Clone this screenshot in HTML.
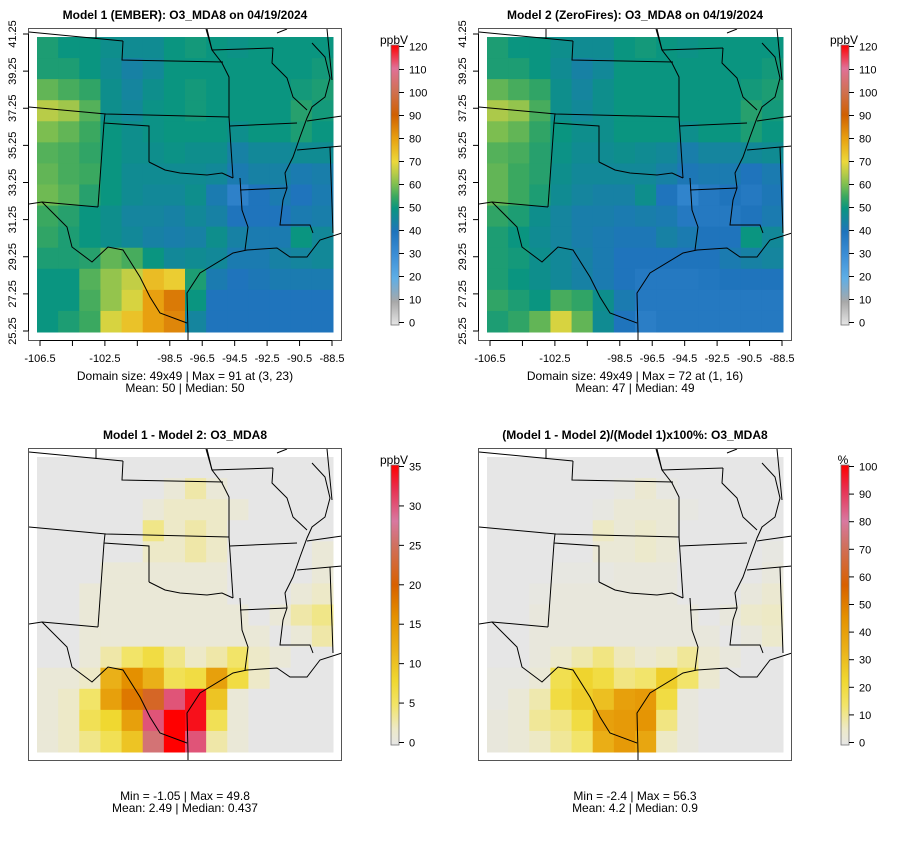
<!DOCTYPE html>
<html><head><meta charset="utf-8"><style>
body{margin:0;background:#fff;font-family:"Liberation Sans",sans-serif}
svg text{font-family:"Liberation Sans",sans-serif}
</style></head><body>
<svg id="s" width="900" height="840" viewBox="0 0 900 840" xmlns="http://www.w3.org/2000/svg"></svg>
<script>
// ---- data (14x14 coarse grids, rows north->south, cols west->east) ----
const latTicks=[25.25,27.25,29.25,31.25,33.25,35.25,37.25,39.25,41.25];
const lonTicks=[-106.5,-104.5,-102.5,-100.5,-98.5,-96.5,-94.5,-92.5,-90.5,-88.5];
const lonLabels=["-106.5","","-102.5","","-98.5","-96.5","-94.5","-92.5","-90.5","-88.5"];
const o3Ticks=[0,10,20,30,40,50,60,70,80,90,100,110,120];
const diffTicks=[0,5,10,15,20,25,30,35];
const pctTicks=[0,10,20,30,40,50,60,70,80,90,100];
const model1=[
[52,50,50,48,47,47,50,51,50,49,50,50,50,50],
[52,52,50,47,44,46,50,50,50,50,50,50,50,51],
[58,56,54,48,45,48,50,51,50,50,50,50,51,52],
[65,63,57,48,46,49,50,51,50,50,50,50,53,51],
[60,58,55,50,48,49,50,50,50,48,50,50,52,50],
[57,56,54,50,48,48,49,48,48,44,46,46,47,47],
[58,56,55,50,47,47,47,47,46,42,44,44,42,43],
[59,57,53,50,47,46,46,48,42,35,40,42,40,42],
[55,53,50,48,45,45,44,46,44,40,40,40,42,43],
[54,52,50,48,46,44,43,44,48,44,42,42,50,46],
[52,52,53,58,56,50,46,47,46,42,42,44,45,46],
[50,50,57,62,66,75,72,52,42,40,41,42,42,42],
[50,50,56,62,68,80,86,50,40,40,40,40,40,40],
[50,52,55,68,74,80,84,45,40,40,40,40,40,40]];
const model2=[
[52,50,50,48,47,47,50,51,50,49,50,50,50,50],
[52,52,50,47,44,46,50,50,50,50,50,50,50,51],
[58,56,54,48,45,48,50,50,50,50,50,50,51,52],
[64,62,56,48,46,48,50,50,50,50,50,50,53,51],
[60,58,54,50,48,48,50,50,50,48,50,50,52,50],
[57,56,53,49,47,47,48,47,46,43,45,45,46,47],
[58,55,53,48,46,46,46,46,44,41,42,42,40,42],
[58,55,52,47,45,44,44,48,40,34,38,40,38,41],
[54,52,48,45,43,43,42,43,42,38,38,38,40,42],
[52,50,47,45,43,42,41,41,44,42,40,40,50,46],
[52,51,48,46,44,42,40,40,40,40,40,42,44,45],
[52,50,48,46,44,42,40,38,38,38,39,40,40,40],
[54,52,50,56,54,48,42,38,38,38,38,38,38,38],
[52,54,58,68,58,47,40,36,38,38,38,38,38,38]];
const diffVals=[
[0,0,0,0,0,0,0,0,0,0,0,0,0,0],
[0,0,0,0,0,0,1,3,1,0,0,0,0,0],
[0,0,0,0,0,1,2,2,2,1,0,0,0,0],
[0,0,0,0,0,4,2,3,2,0,0,0,0,0],
[0,0,0,0,0,2,2,3,2,0,0,0,0,1],
[0,0,0,1,1,1,1,1,1,0,0,0,0,1],
[0,0,1,1,1,1,1,1,1,0,0,0,1,2],
[0,0,1,1,1,1,1,1,1,1,0,1,3,4],
[0,0,1,1,1,1,1,1,1,1,1,0,1,3],
[0,0,1,3,5,7,4,2,3,5,2,1,0,0],
[1,1,2,12,16,12,6,7,14,7,2,0,0,0],
[1,2,5,14,18,22,30,34,10,1,0,0,0,0],
[1,2,6,8,14,30,35,34,6,1,0,0,0,0],
[1,2,4,6,10,26,35,30,3,1,0,0,0,0]];
const pctVals=[
[0,0,0,0,0,0,0,0,0,0,0,0,0,0],
[0,0,0,0,0,0,1,4,1,0,0,0,0,0],
[0,0,0,0,0,1,3,3,3,1,0,0,0,0],
[0,0,0,0,0,6,3,5,3,0,0,0,0,0],
[0,0,0,0,0,3,3,5,3,0,0,0,0,1],
[0,0,0,1,1,1,2,2,2,0,0,0,0,2],
[0,0,1,2,2,2,2,2,2,0,0,0,2,4],
[0,0,2,2,2,2,2,2,2,2,0,2,5,6],
[0,0,2,2,2,2,2,2,2,2,2,0,2,5],
[0,0,2,5,8,12,7,4,6,10,4,2,0,0],
[1,1,3,18,24,20,12,14,26,14,4,0,0,0],
[1,3,8,20,26,30,40,42,20,2,0,0,0,0],
[2,3,10,12,20,40,42,44,12,2,0,0,0,0],
[2,3,6,10,14,35,42,38,6,2,0,0,0,0]];

// ---- colour scales ----
const o3Stops=[[0,"#e6e6e6"],[10,"#a8a8a8"],[20,"#5eaee6"],[30,"#3c8ed6"],[40,"#1f74bc"],[50,"#0a9580"],[55,"#3aa860"],[60,"#7cbe50"],[65,"#b8cc48"],[70,"#ecd83a"],[80,"#e8a010"],[90,"#d06000"],[100,"#d07050"],[110,"#e07098"],[120,"#ff0000"]];
const diffStops=[[0,"#e6e6e6"],[2,"#ede9c8"],[5,"#f2e468"],[8,"#f0d830"],[12,"#eab018"],[16,"#e49000"],[20,"#d86000"],[25,"#d07060"],[28,"#d878a0"],[32,"#e83050"],[35,"#ff0000"]];
const pctStops=diffStops.map(s=>[s[0]*100/35,s[1]]);
function hex(c){return [1,3,5].map(i=>parseInt(c.substr(i,2),16));}
function colorOf(v,stops){
  if(v<=stops[0][0])return stops[0][1];
  for(let i=1;i<stops.length;i++){
    if(v<=stops[i][0]){const a=stops[i-1],b=stops[i];const t=(v-a[0])/(b[0]-a[0]);
      const A=hex(a[1]),B=hex(b[1]);return "rgb("+A.map((x,k)=>Math.round(x+(B[k]-x)*t)).join(",")+")";}
  }
  return stops[stops.length-1][1];
}
const NS="http://www.w3.org/2000/svg";
const svg=document.getElementById('s');
function el(tag,attrs,parent){const e=document.createElementNS(NS,tag);for(const k in attrs)e.setAttribute(k,attrs[k]);(parent||svg).appendChild(e);return e;}
function txt(x,y,s,attrs,parent){const t=el('text',Object.assign({x:x,y:y},attrs),parent);t.textContent=s;return t;}

// map lines (panel-1 pixel coords)
const mapLines=[
[[29,32],[123,41]],[[96,29],[96,39]],[[123,41],[122,60],[223,62]],
[[207,29],[212,50],[222,63],[229,77],[229,117]],[[212,50],[273,48]],
[[29,107],[106,114],[229,117]],[[105,114],[104,123],[149,126],[149,162]],
[[149,162],[165,170],[180,173],[207,175],[222,173],[233,178]],[[229,117],[233,178]],
[[230,126],[297,123]],[[104,123],[98,207]],[[29,204],[42,202],[98,207]],
[[42,202],[67,227],[72,247],[92,262],[108,247],[123,250],[140,277],[150,297],[160,313],[187,323]],
[[188,345],[188,332],[187,293],[200,273],[233,253],[247,250],[277,248],[290,257],[307,257],[320,240],[342,233]],
[[240,178],[242,210],[248,227],[245,250]],[[240,190],[287,188]],
[[312,43],[325,57],[330,78],[325,97],[312,107],[307,118],[300,137],[293,157],[285,173],[287,188],[283,200],[280,225],[310,225],[313,233]],
[[330,147],[333,233]],[[297,150],[342,146]],[[307,121],[342,116]],
[[273,48],[272,63],[287,78],[293,97],[307,110]],[[327,29],[332,80]],[[206,29],[212,50]],[[277,33],[287,29]]
];

const X0=37,X1=333,N=14;
function xScale(c){return X0+c*(X1-X0)/N;}
function lonX(lon){return 40+(lon+106.5)*(292/18);}
function latY(lat){return 331-(lat-25.25)*(297/16);}

const panels=[
 {dx:0,dy:0,data:model1,stops:o3Stops,ticks:o3Ticks,max:120,unit:"ppbV",axes:true,
  title:"Model 1 (EMBER): O3_MDA8 on 04/19/2024",l1:"Domain size: 49x49 | Max = 91 at (3, 23)",l2:"Mean: 50 |  Median: 50",name:"model1"},
 {dx:450,dy:0,data:model2,stops:o3Stops,ticks:o3Ticks,max:120,unit:"ppbV",axes:true,
  title:"Model 2 (ZeroFires): O3_MDA8 on 04/19/2024",l1:"Domain size: 49x49 | Max = 72 at (1, 16)",l2:"Mean: 47 |  Median: 49",name:"model2"},
 {dx:0,dy:420,data:diffVals,stops:diffStops,ticks:diffTicks,max:35,unit:"ppbV",axes:false,
  title:"Model 1 - Model 2: O3_MDA8",l1:"Min = -1.05 | Max = 49.8",l2:"Mean: 2.49 |  Median: 0.437",name:"difference"},
 {dx:450,dy:420,data:pctVals,stops:pctStops,ticks:pctTicks,max:100,unit:"%",axes:false,
  title:"(Model 1 - Model 2)/(Model 1)x100%: O3_MDA8",l1:"Min = -2.4 | Max = 56.3",l2:"Mean: 4.2 |  Median: 0.9",name:"percent-difference"}
];

panels.forEach((p,pi)=>{
  const g=el('g',{transform:`translate(${p.dx},${p.dy})`});
  
  
  const t=txt(185,19,p.title,{'text-anchor':'middle','font-size':'12','font-weight':'bold',fill:'#000'},g);
  
  
  const Y0=p.axes?37:37, Y1=p.axes?332:332;
  const cells=el('g',{},g);
  
  
  const ch=(Y1-Y0)/N;
  p.data.forEach((row,r)=>row.forEach((v,c)=>{
    const rc=el('rect',{x:xScale(c),y:Y0+r*ch,width:(X1-X0)/N+0.5,height:ch+0.5,fill:colorOf(v,p.stops)},cells);
    
    
  }));
  const cpId='cp'+pi;
  const cp=el('clipPath',{id:cpId},g);el('rect',{x:29,y:29,width:313,height:311},cp);
  const mg=el('g',{'clip-path':`url(#${cpId})`,fill:'none',stroke:'#000','stroke-width':'1'},g);
  
  
  mapLines.forEach(l=>el('polyline',{points:l.map(q=>q.join(',')).join(' ')},mg));
  const box=el('rect',{x:28.5,y:28.5,width:313,height:312,fill:'none',stroke:'#555','stroke-width':'1'},g);
  
  
  if(p.axes){
    const ax=el('g',{stroke:'#000','stroke-width':'1'},g);
    
    
    el('line',{x1:28.5,x2:28.5,y1:latY(41.25),y2:latY(25.25)},ax);
    latTicks.forEach(v=>{const y=latY(v);el('line',{x1:23,x2:28.5,y1:y,y2:y},ax);
      const lt=txt(0,0,v.toFixed(2),{transform:`translate(16,${y}) rotate(-90)`,'text-anchor':'middle','font-size':'11',fill:'#000',stroke:'none'},g);
      
      });
    el('line',{x1:lonX(-106.5),x2:lonX(-88.5),y1:340.5,y2:340.5},ax);
    lonTicks.forEach((v,i)=>{const x=lonX(v);el('line',{x1:x,x2:x,y1:340.5,y2:346},ax);
      if(lonLabels[i]){const lt=txt(x,362,lonLabels[i],{'text-anchor':'middle','font-size':'11',fill:'#000'},g);
      
      }});
  }
  const by=p.axes?0:0;
  const l1=txt(185,p.axes?380:380,p.l1,{'text-anchor':'middle','font-size':'12',fill:'#000'},g);
  
  
  const l2=txt(185,p.axes?392:392,p.l2,{'text-anchor':'middle','font-size':'12',fill:'#000'},g);
  
  
  // colorbar
  const cb=el('g',{},g);
  
  
  const cbTop=45, cbBot=325, cbZero=322.5, cbMaxY=46.5;
  const gid='gr'+pi;
  const lg=el('linearGradient',{id:gid,x1:0,y1:1,x2:0,y2:0},g);
  p.stops.forEach(s=>el('stop',{offset:(s[0]/p.max),'stop-color':s[1]},lg));
  el('rect',{x:391,y:cbTop,width:8,height:cbBot-cbTop,fill:`url(#${gid})`,stroke:'#777','stroke-width':'0.8'},cb);
  const u=txt(p.unit==="%"?843-450+0:394,p.axes?44:44,p.unit,{'text-anchor':'middle','font-size':'12',fill:'#000'},cb);
  p.ticks.forEach(v=>{const y=cbZero-(v/p.max)*(cbZero-cbMaxY);
    el('line',{x1:399,x2:404,y1:y,y2:y,stroke:'#000'},cb);
    const tl=txt(409,y+4,String(v),{'font-size':'11',fill:'#000'},cb);
    
    });
});
</script>
</body></html>
